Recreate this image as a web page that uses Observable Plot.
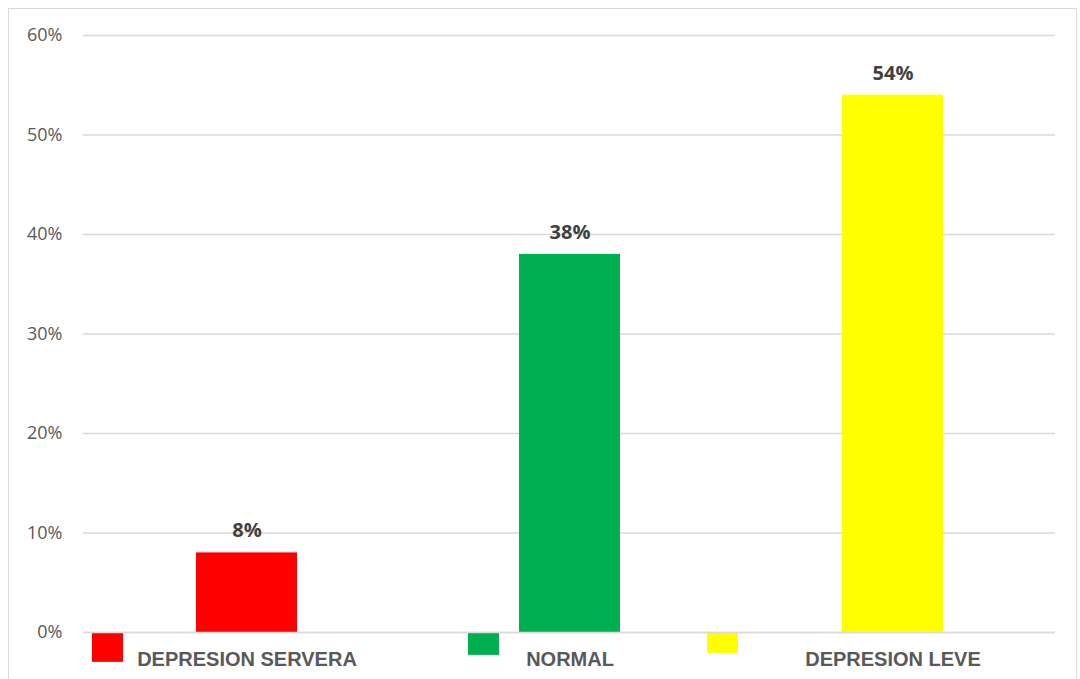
<!DOCTYPE html>
<html>
<head>
<meta charset="utf-8">
<script src="https://cdn.jsdelivr.net/npm/d3@7"></script>
<script src="https://cdn.jsdelivr.net/npm/@observablehq/plot@0.6"></script>
<style>
  html, body { margin: 0; padding: 0; background: #fff; }
  #wrap { position: relative; width: 1080px; height: 679px; overflow: hidden; }
  #border { position: absolute; left: 8px; top: 8px; width: 1069px; height: 680px; border: 1px solid #d9d9d9; box-sizing: border-box; }
  #chart { position: absolute; left: 0; top: 0; }
</style>
</head>
<body>
<div id="wrap"><div id="border"></div><div id="chart"></div></div>
<script>
// Data
const categories = ["DEPRESION SERVERA", "NORMAL", "DEPRESION LEVE"];
const values = [0.08, 0.38, 0.54];
const markerValues = [-0.03, -0.023, -0.021];
const labels = ["8%", "38%", "54%"];
const colors = ["#ff0000", "#00b050", "#ffff00"];
const yTicks = [0, 0.1, 0.2, 0.3, 0.4, 0.5, 0.6];

// Layout (pixel shifts of the small markers, relative to band centre)
const markerShift = [-139, -86, -170];

const data = categories.map((c, i) => ({cat: c, value: values[i], marker: markerValues[i], label: labels[i], color: colors[i]}));

const chart = Plot.plot({
  width: 1080,
  height: 679,
  marginLeft: 83,
  marginRight: 25,
  marginTop: 35,
  marginBottom: 47,
  style: {background: "transparent", overflow: "visible"},
  x: {domain: categories, paddingInner: 0.688, paddingOuter: 0.346, label: null},
  y: {domain: [0, 0.6], label: null},
  marks: [
    Plot.gridY(yTicks, {stroke: "#d9d9d9", strokeOpacity: 1, strokeWidth: 1.3}),
    Plot.axisY(yTicks, {tickSize: 0, tickPadding: 0, dx: -21, tickFormat: d3.format(".0%"), fill: "#595959", fontSize: 18, fontFamily: "Open Sans", label: null}),
    Plot.barY(data, {x: "cat", y: "value", fill: "color"}),
    ...data.map((d, i) => Plot.barY([d], {x: "cat", y: "marker", fill: "color", dx: markerShift[i], insetLeft: 35, insetRight: 35})),
    Plot.ruleY([0], {stroke: "#d9d9d9", strokeWidth: 1.3}),
    Plot.text(data, {x: "cat", y: "value", text: "label", dy: -22, fill: "#404040", fontSize: 20, fontWeight: "bold", fontFamily: "Open Sans"}),
    Plot.axisX({tickSize: 0, tickPadding: 0, dy: 19, fill: "#595959", fontSize: 20, fontWeight: "bold", fontFamily: "Liberation Sans", label: null})
  ]
});
document.getElementById("chart").appendChild(chart);
</script>
</body>
</html>
